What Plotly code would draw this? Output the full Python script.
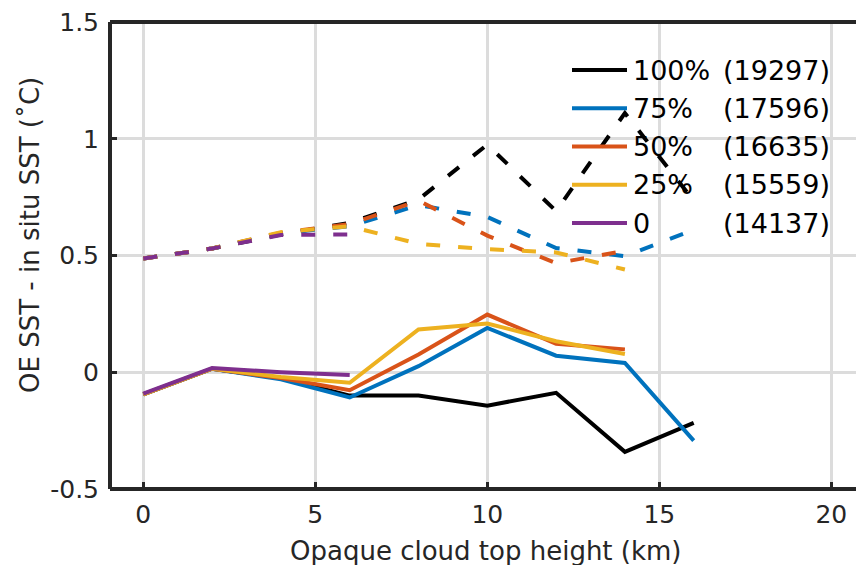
import plotly.graph_objects as go

# Cloud-top height bins (km)
heights = [0, 2, 4, 6, 8, 10, 12, 14, 16]

# Legend entries: opaque cloud fraction and number of matchups
fractions = ["100%", "75%", "50%", "25%", "0"]
counts = [19297, 17596, 16635, 15559, 14137]
colors = ["#000000", "#0072BD", "#D95319", "#EDB120", "#7E2F8E"]

# Solid curves: OE SST - in situ SST (degC)
solid_100 = [-0.095, 0.015, -0.025, -0.100, -0.100, -0.143, -0.088, -0.341, -0.217]
solid_75 = [-0.095, 0.015, -0.030, -0.108, 0.026, 0.190, 0.071, 0.040, -0.293]
solid_50 = [-0.095, 0.015, -0.025, -0.077, 0.076, 0.247, 0.122, 0.098, None]
solid_25 = [-0.095, 0.015, -0.020, -0.045, 0.183, 0.209, 0.133, 0.078, None]
solid_0 = [-0.092, 0.018, 0.000, -0.012, None, None, None, None, None]

# Dashed curves
dashed_100 = [0.487, 0.530, 0.590, 0.640, 0.740, 0.975, 0.690, 1.110, 0.735]
dashed_75 = [0.487, 0.530, 0.595, 0.625, 0.716, 0.665, 0.532, 0.497, 0.610]
dashed_50 = [0.487, 0.530, 0.598, 0.635, 0.735, 0.585, 0.467, 0.520, None]
dashed_25 = [0.487, 0.530, 0.600, 0.625, 0.550, 0.527, 0.513, 0.440, None]
dashed_0 = [0.487, 0.530, 0.588, 0.590, None, None, None, None, None]

x_ticks = [0, 5, 10, 15, 20]
y_ticks = [-0.5, 0, 0.5, 1, 1.5]
y_ticktext = ["-0.5", "0", "0.5", "1", "1.5"]

solids = [solid_100, solid_75, solid_50, solid_25, solid_0]
dashes = [dashed_100, dashed_75, dashed_50, dashed_25, dashed_0]

W, H = 856, 565
ML, MR, MT, MB = 110, 0, 22, 76
x_range = [-0.968, 20.718]
y_range = [-0.5, 1.5]

AX = "#262626"
GRID = "#dcdcdc"
FONT = "DejaVu Sans"

fig = go.Figure()
for s, d, c in zip(solids, dashes, colors):
    fig.add_trace(go.Scatter(x=heights, y=s, mode="lines",
                             line=dict(color=c, width=4),
                             showlegend=False, hoverinfo="skip"))
    fig.add_trace(go.Scatter(x=heights, y=d, mode="lines",
                             line=dict(color=c, width=4, dash="14px,18px"),
                             showlegend=False, hoverinfo="skip"))

pw = W - ML - MR
ph = H - MT - MB


def px_to_paper(px, py):
    return (px - ML) / pw, (H - MB - py) / ph


shapes = []
# box outline (left, bottom, top)
for x0, y0, x1, y1 in [(0, 0, 0, 1), (0, 0, 1, 0), (0, 1, 1, 1)]:
    shapes.append(dict(type="line", xref="paper", yref="paper",
                       x0=x0, y0=y0, x1=x1, y1=y1,
                       line=dict(color=AX, width=4), layer="above"))

annotations = []
# legend
row_y0, row_dy = 70.0, 38.25
for i, (lab, n, c) in enumerate(zip(fractions, counts, colors)):
    py = row_y0 + i * row_dy
    xa, ya = px_to_paper(572, py)
    xb, _ = px_to_paper(627, py)
    shapes.append(dict(type="line", xref="paper", yref="paper",
                       x0=xa, x1=xb, y0=ya, y1=ya,
                       line=dict(color=c, width=4), layer="above"))
    xt, _ = px_to_paper(631, py)
    annotations.append(dict(xref="paper", yref="paper", x=xt, y=ya,
                            xanchor="left", yanchor="middle", showarrow=False,
                            text=lab, font=dict(family=FONT, size=27, color="#000000")))
    xn, _ = px_to_paper(721, py)
    annotations.append(dict(xref="paper", yref="paper", x=xn, y=ya,
                            xanchor="left", yanchor="middle", showarrow=False,
                            text="(%d)" % n, font=dict(family=FONT, size=27, color="#000000")))

# axis titles
tx, ty = px_to_paper(486, 551)
annotations.append(dict(xref="paper", yref="paper", x=tx, y=ty,
                        xanchor="center", yanchor="middle", showarrow=False,
                        text="Opaque cloud top height (km)",
                        font=dict(family=FONT, size=26, color=AX)))
tx, ty = px_to_paper(30, 235)
annotations.append(dict(xref="paper", yref="paper", x=tx, y=ty,
                        xanchor="center", yanchor="middle", showarrow=False,
                        textangle=-90, text="OE SST - in situ SST (˚C)",
                        font=dict(family=FONT, size=26, color=AX)))

fig.update_layout(
    width=W, height=H,
    margin=dict(l=ML, r=MR, t=MT, b=MB, pad=0),
    paper_bgcolor="white", plot_bgcolor="white",
    showlegend=False,
    xaxis=dict(range=x_range, tickvals=x_ticks, ticks="inside", ticklen=7,
               tickwidth=3, tickcolor=AX, showgrid=True, gridcolor=GRID,
               gridwidth=3, zeroline=False, showline=False,
               ticklabelstandoff=8,
               tickfont=dict(family=FONT, size=25, color=AX)),
    xaxis2=dict(range=x_range, tickvals=x_ticks, ticks="inside", ticklen=7,
                tickwidth=3, tickcolor=AX, overlaying="x", side="top",
                anchor="y", showticklabels=False, showgrid=False,
                zeroline=False, showline=False),
    yaxis=dict(range=y_range, tickvals=y_ticks, ticktext=y_ticktext,
               ticks="inside", ticklen=7, tickwidth=3, tickcolor=AX,
               showgrid=True, gridcolor=GRID, gridwidth=3, zeroline=False,
               showline=False, ticklabelstandoff=10,
               tickfont=dict(family=FONT, size=25, color=AX)),
    shapes=shapes,
    annotations=annotations,
)

fig.write_html("out.html")
